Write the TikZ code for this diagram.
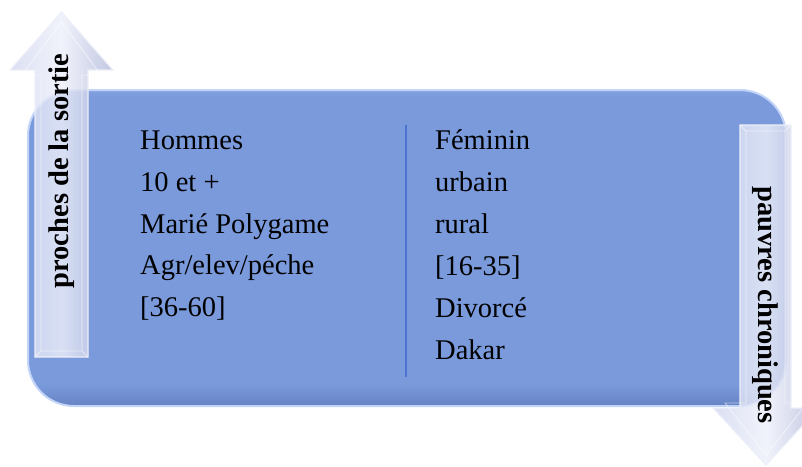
\documentclass[tikz,border=0pt]{standalone}
\usepackage{fontspec}
\setmainfont{Liberation Serif}
\definecolor{boxfill}{HTML}{7A9ADC}
\definecolor{boxbot}{HTML}{6683C4}
\definecolor{boxedge}{HTML}{C2D4F7}
\definecolor{divline}{HTML}{4B73CF}
\definecolor{arrL}{HTML}{D3D8F0}
\definecolor{arrM}{HTML}{EEF0FA}
\definecolor{arrR}{HTML}{B4BADB}
\definecolor{arrEdge}{HTML}{EDEFF9}
\pgfdeclareverticalshading{boxshade}{100bp}{color(0bp)=(boxbot); color(25bp)=(boxbot); color(28.5bp)=(boxfill); color(74bp)=(boxfill); color(75bp)=(boxfill!92!white); color(100bp)=(boxfill!92!white)}
\tikzset{
  celltext/.style={anchor=base west, inner sep=0pt, font=\fontsize{28.5}{34}\selectfont},
  arrowlabel/.style={inner sep=0pt, font=\fontsize{28.5}{34}\selectfont\bfseries},
  arrowbody/.style={left color=arrL, right color=arrR, middle color=arrM, fill opacity=0.82, draw=arrEdge, line width=1.2pt, line join=miter},
  bevel/.style={draw=white, draw opacity=0.55, line width=0.8pt},
}
\begin{document}
\begin{tikzpicture}[x=1pt,y=-1pt]
\useasboundingbox (0,0) rectangle (802,466);
% main box
\draw[draw=boxedge, line width=2pt, rounded corners=46pt, shading=boxshade] (28,90) rectangle (786,406);
\node[inner sep=0pt, minimum width=0pt] (mainbox) at (407,248) {};
% divider
\coordinate (dtop) at (406,125);
\coordinate (dbot) at (406,377);
\draw[divline, line width=2.6pt] (dtop) -- (dbot);
% left column
\node[celltext] (l1) at (140,149) {Hommes};
\node[celltext] (l2) at (140,191) {10 et +};
\node[celltext] (l3) at (140,233) {Marié Polygame};
\node[celltext] (l4) at (140,274) {Agr/elev/péche};
\node[celltext] (l5) at (140,316) {[36-60]};
% right column
\node[celltext] (r1) at (435,149) {Féminin};
\node[celltext] (r2) at (435,191) {urbain};
\node[celltext] (r3) at (435,233) {rural};
\node[celltext] (r4) at (435,275) {[16-35]};
\node[celltext] (r5) at (435,317) {Divorcé};
\node[celltext] (r6) at (435,359) {Dakar};
% left up arrow
\draw[arrowbody] (35,357) -- (35,70) -- (10,70) -- (61.5,12) -- (113,70) -- (88,70) -- (88,357) -- cycle;
\draw[bevel] (41,351) -- (41,75) -- (22,75) -- (61.5,22) -- (101,75) -- (82,75) -- (82,351) -- cycle;
\draw[bevel] (35,357) -- (41,351) (88,357) -- (82,351);
\node[arrowlabel, rotate=90] (upl) at (62,171) {proches de la sortie};
% right down arrow
\draw[arrowbody] (740,125) -- (740,408) -- (713,408) -- (766,465) -- (819,408) -- (791,408) -- (791,125) -- cycle;
\draw[bevel] (746,131) -- (746,403) -- (725,403) -- (766,455) -- (807,403) -- (785,403) -- (785,131) -- cycle;
\draw[bevel] (740,125) -- (746,131) (791,125) -- (785,131);
\node[arrowlabel, rotate=-90] (downl) at (765,305) {pauvres chroniques};
\end{tikzpicture}
\end{document}
